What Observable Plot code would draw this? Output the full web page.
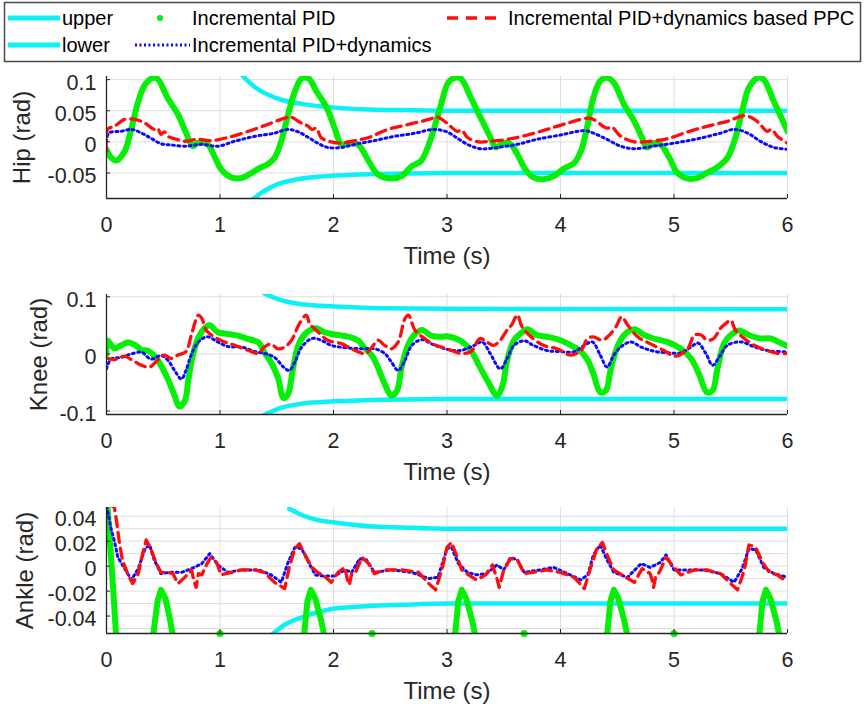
<!DOCTYPE html>
<html><head><meta charset="utf-8">
<script src="https://cdn.jsdelivr.net/npm/d3@7"></script>
<script src="https://cdn.jsdelivr.net/npm/@observablehq/plot@0.6"></script>
<style>
body{margin:0;background:#fff}
#wrap{position:relative;width:865px;height:707px;overflow:hidden;background:#fff}
#wrap svg{position:absolute;left:0}
</style>
</head><body><div id="wrap"></div>
<script>
// ---------- data (time s, value rad) ----------
const timeTicks = [0, 1, 2, 3, 4, 5, 6];

const hipTicks = [-0.05, 0, 0.05, 0.1];
const kneeTicks = [-0.1, 0, 0.1];
const ankleTicks = [-0.04, -0.02, 0, 0.02, 0.04];
const ankleGrid = [-0.05, -0.04, -0.03, -0.02, -0.01, 0, 0.01, 0.02, 0.03, 0.04];

const hipUpper = [[1.2,0.106],[1.3,0.089],[1.42,0.076],[1.57,0.066],[1.72,0.061],[2.01,0.055],[2.31,0.052],[2.6,0.051],[3.0,0.05],[6,0.05]];
const hipLower = [[1.29,-0.092],[1.39,-0.079],[1.51,-0.068],[1.66,-0.061],[1.86,-0.056],[2.16,-0.053],[2.6,-0.051],[3.0,-0.05],[6,-0.05]];
const hipPID = [[0,-0.012],[0.04,-0.025],[0.085,-0.03],[0.16,-0.015],[0.22,0.022],[0.28,0.065],[0.34,0.092],[0.41,0.103],[0.45,0.101],[0.54,0.07],[0.63,0.044],[0.70,0.015],[0.76,-0.007],[0.80,-0.002],[0.89,-0.004],[0.95,-0.023],[1.01,-0.044],[1.10,-0.057],[1.19,-0.058],[1.26,-0.052],[1.34,-0.043],[1.42,-0.036],[1.48,-0.026],[1.54,0.001],[1.60,0.044],[1.66,0.081],[1.72,0.102],[1.78,0.102],[1.85,0.081],[1.94,0.055],[2.01,0.022],[2.07,-0.004],[2.13,-0.002],[2.22,-0.005],[2.31,-0.031],[2.39,-0.052],[2.51,-0.059],[2.60,-0.055],[2.69,-0.039],[2.77,-0.031],[2.85,0.001],[2.94,0.055],[3.01,0.095],[3.07,0.103],[3.12,0.102],[3.21,0.071],[3.29,0.041],[3.37,0.012],[3.43,-0.009],[3.49,-0.002],[3.56,-0.004],[3.62,-0.020],[3.69,-0.044],[3.76,-0.057],[3.85,-0.060],[3.94,-0.055],[4.03,-0.043],[4.12,-0.034],[4.18,-0.015],[4.24,0.028],[4.29,0.071],[4.35,0.098],[4.41,0.103],[4.47,0.095],[4.56,0.060],[4.65,0.033],[4.72,0.006],[4.76,-0.009],[4.82,-0.002],[4.88,-0.004],[4.96,-0.026],[5.03,-0.050],[5.12,-0.059],[5.21,-0.058],[5.29,-0.050],[5.38,-0.041],[5.47,-0.026],[5.54,0.006],[5.60,0.049],[5.66,0.087],[5.74,0.103],[5.79,0.100],[5.88,0.065],[5.96,0.033],[6.0,0.017]];
const hipDyn = [[0,0.0],[0.02,0.014],[0.13,0.017],[0.22,0.020],[0.31,0.014],[0.39,0.006],[0.48,-0.003],[0.57,-0.005],[0.69,-0.007],[0.84,-0.004],[0.98,-0.007],[1.13,0.001],[1.31,0.009],[1.48,0.014],[1.60,0.020],[1.69,0.016],[1.78,0.007],[1.86,-0.002],[1.95,-0.009],[2.07,-0.009],[2.19,-0.004],[2.36,0.002],[2.54,0.009],[2.72,0.014],[2.88,0.020],[3.0,0.016],[3.09,0.006],[3.18,-0.004],[3.29,-0.011],[3.44,-0.009],[3.62,-0.004],[3.79,0.004],[4.0,0.011],[4.21,0.018],[4.29,0.014],[4.41,0.004],[4.53,-0.007],[4.65,-0.011],[4.82,-0.007],[5.0,-0.002],[5.21,0.005],[5.41,0.014],[5.53,0.020],[5.65,0.014],[5.76,0.001],[5.88,-0.009],[6.0,-0.012]];
const hipPPC = [[0,-0.015],[0.01,0.02],[0.07,0.025],[0.16,0.036],[0.25,0.036],[0.34,0.030],[0.42,0.020],[0.45,0.022],[0.48,0.012],[0.51,0.016],[0.55,0.008],[0.60,0.005],[0.69,0.001],[0.80,0.004],[0.92,0.002],[1.07,0.007],[1.25,0.017],[1.42,0.028],[1.57,0.038],[1.62,0.040],[1.72,0.030],[1.77,0.026],[1.81,0.020],[1.85,0.022],[1.89,0.007],[1.98,0.000],[2.07,-0.002],[2.19,0.002],[2.31,0.007],[2.48,0.020],[2.66,0.028],[2.84,0.036],[2.91,0.040],[3.0,0.030],[3.09,0.017],[3.13,0.019],[3.18,0.007],[3.28,0.000],[3.38,0.001],[3.53,0.004],[3.71,0.011],[3.88,0.020],[4.06,0.030],[4.24,0.038],[4.29,0.036],[4.41,0.022],[4.45,0.024],[4.53,0.009],[4.65,0.000],[4.79,0.001],[4.94,0.005],[5.12,0.016],[5.29,0.025],[5.47,0.033],[5.62,0.042],[5.71,0.036],[5.76,0.028],[5.82,0.017],[5.86,0.020],[5.91,0.009],[6.0,-0.002]];

const kneeUpper = [[1.39,0.106],[1.51,0.096],[1.72,0.087],[2.01,0.083],[2.45,0.080],[3.0,0.079],[6,0.078]];
const kneeLower = [[1.39,-0.107],[1.51,-0.096],[1.72,-0.087],[2.01,-0.083],[2.45,-0.080],[3.0,-0.079],[6,-0.079]];
const kneePID = [[0,0.0],[0.01,0.023],[0.07,0.010],[0.13,0.015],[0.19,0.020],[0.25,0.016],[0.31,0.007],[0.36,0.006],[0.42,-0.003],[0.48,-0.020],[0.54,-0.044],[0.60,-0.073],[0.64,-0.092],[0.69,-0.082],[0.72,-0.047],[0.76,-0.003],[0.81,0.029],[0.86,0.044],[0.91,0.050],[0.98,0.038],[1.07,0.035],[1.16,0.032],[1.25,0.026],[1.34,0.020],[1.39,0.003],[1.45,-0.015],[1.51,-0.041],[1.56,-0.077],[1.60,-0.070],[1.64,-0.029],[1.69,0.015],[1.75,0.035],[1.82,0.044],[1.85,0.045],[1.92,0.038],[2.01,0.034],[2.13,0.030],[2.22,0.023],[2.28,0.009],[2.34,-0.003],[2.39,-0.023],[2.45,-0.052],[2.51,-0.073],[2.56,-0.064],[2.60,-0.023],[2.66,0.017],[2.72,0.035],[2.78,0.042],[2.86,0.032],[2.95,0.030],[3.0,0.031],[3.12,0.023],[3.21,0.006],[3.29,-0.023],[3.37,-0.052],[3.44,-0.073],[3.49,-0.055],[3.53,-0.011],[3.59,0.024],[3.65,0.036],[3.71,0.043],[3.79,0.033],[3.88,0.030],[4.0,0.024],[4.12,0.012],[4.18,0.004],[4.24,-0.011],[4.29,-0.035],[4.35,-0.067],[4.40,-0.064],[4.44,-0.029],[4.50,0.012],[4.56,0.033],[4.65,0.043],[4.74,0.033],[4.82,0.027],[4.94,0.021],[5.06,0.009],[5.15,-0.008],[5.22,-0.035],[5.29,-0.067],[5.34,-0.064],[5.38,-0.029],[5.44,0.018],[5.50,0.033],[5.57,0.041],[5.66,0.033],[5.76,0.027],[5.85,0.027],[5.94,0.019],[6.0,0.014]];
const kneeDyn = [[0,-0.026],[0.04,-0.009],[0.13,-0.006],[0.22,0.0],[0.31,0.003],[0.39,-0.009],[0.48,-0.003],[0.54,-0.011],[0.60,-0.029],[0.66,-0.044],[0.70,-0.029],[0.75,0.0],[0.81,0.021],[0.89,0.030],[0.98,0.021],[1.07,0.013],[1.19,0.012],[1.31,0.004],[1.39,0.001],[1.48,-0.006],[1.56,-0.023],[1.61,-0.029],[1.66,-0.014],[1.72,0.012],[1.81,0.027],[1.89,0.024],[1.98,0.015],[2.10,0.011],[2.25,0.009],[2.36,0.009],[2.45,0.001],[2.51,-0.014],[2.57,-0.029],[2.63,-0.011],[2.69,0.015],[2.78,0.025],[2.86,0.018],[3.0,0.008],[3.12,0.006],[3.24,0.015],[3.31,0.021],[3.38,0.001],[3.47,-0.026],[3.53,-0.008],[3.59,0.015],[3.68,0.023],[3.76,0.015],[3.88,0.006],[4.0,0.004],[4.12,0.004],[4.21,0.015],[4.28,0.021],[4.35,-0.002],[4.41,-0.023],[4.47,-0.002],[4.53,0.012],[4.62,0.021],[4.71,0.012],[4.82,0.005],[4.94,0.002],[5.06,0.002],[5.15,0.012],[5.21,0.019],[5.28,0.001],[5.34,-0.020],[5.40,-0.005],[5.47,0.015],[5.59,0.021],[5.71,0.012],[5.85,0.005],[6.0,0.004]];
const kneePPC = [[0,-0.007],[0.07,-0.010],[0.16,-0.004],[0.22,-0.010],[0.31,-0.020],[0.38,-0.023],[0.45,-0.011],[0.51,-0.002],[0.57,-0.008],[0.63,-0.002],[0.70,0.004],[0.75,0.035],[0.81,0.068],[0.84,0.062],[0.88,0.041],[0.95,0.030],[1.04,0.021],[1.13,0.015],[1.25,0.006],[1.34,0.001],[1.39,0.012],[1.45,0.017],[1.51,0.009],[1.57,0.012],[1.63,0.024],[1.70,0.053],[1.76,0.068],[1.79,0.053],[1.85,0.041],[1.95,0.024],[2.07,0.018],[2.19,0.006],[2.28,0.001],[2.34,0.012],[2.39,0.024],[2.45,0.015],[2.51,0.009],[2.57,0.021],[2.63,0.062],[2.66,0.068],[2.72,0.041],[2.81,0.026],[2.89,0.016],[3.0,0.009],[3.12,0.001],[3.21,0.004],[3.29,0.027],[3.35,0.021],[3.41,0.015],[3.47,0.024],[3.53,0.042],[3.57,0.051],[3.62,0.068],[3.66,0.048],[3.74,0.030],[3.85,0.015],[3.97,0.009],[4.09,-0.002],[4.18,0.006],[4.24,0.027],[4.29,0.030],[4.37,0.024],[4.43,0.033],[4.49,0.048],[4.54,0.065],[4.59,0.051],[4.68,0.030],[4.79,0.018],[4.91,0.006],[5.01,-0.004],[5.12,0.009],[5.18,0.033],[5.24,0.033],[5.29,0.024],[5.35,0.027],[5.41,0.045],[5.46,0.054],[5.50,0.059],[5.54,0.042],[5.62,0.027],[5.71,0.015],[5.82,0.006],[5.91,0.001],[6.0,0.001]];

const ankleUpper = [[1.61,0.046],[1.72,0.041],[1.86,0.037],[2.01,0.035],[2.31,0.032],[2.6,0.031],[3.0,0.030],[6,0.030]];
const ankleLower = [[1.47,-0.054],[1.57,-0.047],[1.72,-0.041],[1.86,-0.037],[2.01,-0.034],[2.31,-0.032],[2.6,-0.031],[3.0,-0.030],[6,-0.030]];
const anklePID = [[0,0.06],[0.03,0.02],[0.06,-0.02],[0.085,-0.056],[0.1,-0.09],[0.38,-0.09],[0.41,-0.056],[0.45,-0.028],[0.48,-0.019],[0.52,-0.026],[0.56,-0.043],[0.585,-0.056],[0.62,-0.09],[1.71,-0.09],[1.74,-0.056],[1.77,-0.028],[1.80,-0.019],[1.84,-0.026],[1.89,-0.043],[1.92,-0.056],[1.95,-0.09],[3.04,-0.09],[3.07,-0.056],[3.10,-0.028],[3.13,-0.019],[3.17,-0.026],[3.22,-0.043],[3.25,-0.056],[3.28,-0.09],[4.38,-0.09],[4.41,-0.056],[4.44,-0.028],[4.47,-0.019],[4.51,-0.026],[4.56,-0.043],[4.59,-0.056],[4.62,-0.09],[5.72,-0.09],[5.75,-0.056],[5.78,-0.028],[5.81,-0.019],[5.85,-0.026],[5.90,-0.043],[5.93,-0.056],[5.96,-0.09],[6,-0.09]];
const anklePIDTouch = [[1.0,-0.054],[2.34,-0.054],[3.68,-0.054],[5.0,-0.054]];
const ankleDyn = [[0,0.048],[0.02,0.040],[0.04,0.030],[0.07,0.020],[0.10,0.007],[0.16,-0.002],[0.22,-0.011],[0.28,-0.002],[0.34,0.014],[0.38,0.017],[0.42,0.005],[0.48,-0.006],[0.57,-0.005],[0.66,-0.005],[0.75,-0.002],[0.84,0.002],[0.91,0.010],[0.98,0.001],[1.07,-0.005],[1.19,-0.003],[1.34,-0.003],[1.45,-0.007],[1.54,-0.013],[1.60,0.003],[1.66,0.015],[1.72,0.014],[1.78,0.003],[1.84,-0.007],[1.92,-0.008],[2.01,-0.008],[2.10,-0.003],[2.16,-0.005],[2.23,0.006],[2.29,0.005],[2.36,-0.005],[2.51,-0.003],[2.69,-0.005],[2.84,-0.010],[2.92,-0.009],[3.0,0.014],[3.04,0.015],[3.10,0.002],[3.18,-0.005],[3.26,-0.007],[3.35,-0.006],[3.44,0.001],[3.50,-0.003],[3.56,0.007],[3.62,0.005],[3.68,-0.005],[3.82,-0.003],[3.94,-0.001],[4.06,-0.006],[4.18,-0.011],[4.24,-0.007],[4.29,0.009],[4.35,0.017],[4.41,0.005],[4.47,-0.005],[4.59,-0.009],[4.71,0.002],[4.79,-0.001],[4.88,0.003],[4.93,0.009],[5.0,-0.003],[5.12,-0.003],[5.26,-0.003],[5.41,-0.006],[5.53,-0.013],[5.60,-0.002],[5.66,0.014],[5.72,0.013],[5.79,-0.001],[5.88,-0.006],[6.0,-0.009]];
const anklePPC = [[0.02,0.050],[0.07,0.047],[0.09,0.035],[0.115,0.018],[0.14,0.005],[0.19,-0.007],[0.23,-0.014],[0.28,-0.006],[0.31,0.007],[0.35,0.021],[0.39,0.014],[0.44,0.002],[0.48,-0.005],[0.54,-0.005],[0.585,-0.006],[0.63,-0.014],[0.69,-0.009],[0.75,-0.003],[0.77,-0.012],[0.79,-0.017],[0.81,-0.006],[0.84,-0.007],[0.88,0.001],[0.92,0.007],[0.97,0.003],[1.01,-0.007],[1.10,-0.005],[1.19,-0.003],[1.31,-0.003],[1.39,-0.005],[1.48,-0.013],[1.57,-0.018],[1.61,-0.001],[1.66,0.014],[1.70,0.018],[1.75,0.009],[1.81,-0.001],[1.86,-0.005],[1.92,-0.008],[1.98,-0.013],[2.04,-0.005],[2.10,-0.001],[2.12,-0.010],[2.14,-0.015],[2.16,-0.006],[2.19,-0.006],[2.25,0.007],[2.31,0.002],[2.36,-0.006],[2.45,-0.003],[2.60,-0.003],[2.75,-0.005],[2.84,-0.014],[2.90,-0.019],[2.96,-0.001],[3.0,0.015],[3.04,0.019],[3.09,0.007],[3.13,-0.003],[3.19,-0.007],[3.26,-0.011],[3.34,-0.007],[3.40,0.001],[3.44,-0.010],[3.46,-0.017],[3.50,-0.003],[3.56,0.006],[3.62,0.005],[3.68,-0.006],[3.76,-0.005],[3.88,-0.003],[4.0,-0.005],[4.12,-0.009],[4.21,-0.018],[4.26,-0.003],[4.32,0.014],[4.37,0.019],[4.41,0.009],[4.47,-0.003],[4.56,-0.008],[4.65,-0.013],[4.72,-0.002],[4.79,-0.006],[4.81,-0.012],[4.82,-0.017],[4.84,-0.008],[4.87,-0.005],[4.93,0.007],[5.0,-0.001],[5.06,-0.007],[5.18,-0.003],[5.29,-0.003],[5.41,-0.006],[5.50,-0.014],[5.56,-0.019],[5.62,-0.003],[5.66,0.017],[5.72,0.015],[5.78,0.003],[5.84,-0.005],[5.91,-0.007],[6.0,-0.013]];

// ---------- styles ----------
const CYAN = "#0cf0f8", GREEN = "#06ef06", BLUE = "#0a0aff", RED = "#ff0d0d";
const GRID = "#dedede", AX = "#262626";
const FONT = "'Liberation Sans', Arial, Helvetica, sans-serif";
const obj = a => a.map(([t, v]) => ({t, v}));

function panel({top, yDomain, yTicks, yGrid, yLabel, yLabelDx, frameH, upper, lower, pid, dyn, ppc, curve, touch}) {
  const marks = [
    Plot.gridX(timeTicks, {stroke: GRID, strokeOpacity: 1}),
    Plot.gridY(yGrid, {stroke: GRID, strokeOpacity: 1}),
    Plot.line(obj(upper), {x: "t", y: "v", stroke: CYAN, strokeWidth: 4.5, curve: "monotone-x", clip: true}),
    Plot.line(obj(lower), {x: "t", y: "v", stroke: CYAN, strokeWidth: 4.5, curve: "monotone-x", clip: true}),
    Plot.line(obj(pid), {x: "t", y: "v", stroke: GREEN, strokeWidth: 6, curve: curve.pid, strokeLinejoin: "round", strokeLinecap: "round", clip: true})
  ];
  if (touch) marks.push(Plot.dot(obj(touch), {x: "t", y: "v", r: 3.5, fill: GREEN}));
  marks.push(
    Plot.line(obj(dyn), {x: "t", y: "v", stroke: BLUE, strokeWidth: 3, strokeDasharray: "2,3.5", curve: curve.other, clip: true}),
    Plot.line(obj(ppc), {x: "t", y: "v", stroke: RED, strokeWidth: 3.3, strokeDasharray: "10,6", curve: curve.other, clip: true}),
    Plot.ruleX([0], {stroke: AX, strokeWidth: 1.3}),
    Plot.ruleY([yDomain[0]], {stroke: AX, strokeWidth: 1.3}),
    Plot.axisX(timeTicks, {tickSize: -4, tickFormat: () => "", label: null}),
    Plot.axisY(yTicks, {tickSize: -4, tickFormat: () => "", label: null}),
    Plot.axisX(timeTicks, {tickSize: 0, tickPadding: 18, tickFormat: d => String(d), label: null, fontSize: 21.5}),
    Plot.axisY(yTicks, {tickSize: 0, tickPadding: 10, dy: 3, tickFormat: d => String(d), label: null, fontSize: 21.5}),
    Plot.text(["Time (s)"], {text: d => d, frameAnchor: "bottom", textAnchor: "middle", dy: 58, lineAnchor: "middle", fontSize: 24}),
    Plot.text([yLabel], {text: d => d, frameAnchor: "left", textAnchor: "middle", dx: yLabelDx, rotate: -90, lineAnchor: "middle", fontSize: 24})
  );
  const svg = Plot.plot({
    width: 865, height: 10 + frameH + 66,
    marginLeft: 106, marginRight: 78, marginTop: 10, marginBottom: 66,
    style: {fontFamily: FONT, color: AX, background: "transparent", overflow: "visible"},
    x: {domain: [0, 6]},
    y: {domain: yDomain},
    marks
  });
  svg.style.top = top + "px";
  document.getElementById("wrap").appendChild(svg);
}

panel({top: 66, frameH: 122, yDomain: [-0.091, 0.105], yTicks: hipTicks, yGrid: hipTicks, yLabel: "Hip (rad)", yLabelDx: -84,
  upper: hipUpper, lower: hipLower, pid: hipPID, dyn: hipDyn, ppc: hipPPC, curve: {pid: "catmull-rom", other: "catmull-rom"}});
panel({top: 284, frameH: 120, yDomain: [-0.106, 0.104], yTicks: kneeTicks, yGrid: kneeTicks, yLabel: "Knee (rad)", yLabelDx: -67,
  upper: kneeUpper, lower: kneeLower, pid: kneePID, dyn: kneeDyn, ppc: kneePPC, curve: {pid: "catmull-rom", other: "catmull-rom"}});
panel({top: 497, frameH: 126, yDomain: [-0.054, 0.047], yTicks: ankleTicks, yGrid: ankleGrid, yLabel: "Ankle (rad)", yLabelDx: -81,
  upper: ankleUpper, lower: ankleLower, pid: anklePID, dyn: ankleDyn, ppc: anklePPC, curve: {pid: "linear", other: "linear"}, touch: anklePIDTouch});

// ---------- legend (above the charts) ----------
const lg = d3.select("#wrap").append("svg").attr("width", 865).attr("height", 64).style("top", "0px");
lg.append("rect").attr("x", 4.5).attr("y", 2.5).attr("width", 856).attr("height", 59)
  .attr("fill", "#fff").attr("stroke", "#4a4a4a").attr("stroke-width", 1.5);
const legendItems = [
  {label: "upper", kind: "cyan", sx: 8, tx: 62, y: 18},
  {label: "lower", kind: "cyan", sx: 8, tx: 62, y: 45},
  {label: "Incremental PID", kind: "dot", sx: 160, tx: 192, y: 18},
  {label: "Incremental PID+dynamics", kind: "dotted", sx: 135, tx: 192, y: 45},
  {label: "Incremental PID+dynamics based PPC", kind: "dashed", sx: 447, tx: 508, y: 18}
];
for (const it of legendItems) {
  if (it.kind === "cyan") lg.append("line").attr("x1", it.sx).attr("x2", it.sx + 52).attr("y1", it.y).attr("y2", it.y).attr("stroke", CYAN).attr("stroke-width", 5);
  if (it.kind === "dot") lg.append("circle").attr("cx", it.sx).attr("cy", it.y).attr("r", 3).attr("fill", GREEN);
  if (it.kind === "dotted") lg.append("line").attr("x1", it.sx).attr("x2", it.sx + 55).attr("y1", it.y).attr("y2", it.y).attr("stroke", BLUE).attr("stroke-width", 3).attr("stroke-dasharray", "2,2.5");
  if (it.kind === "dashed") lg.append("line").attr("x1", it.sx).attr("x2", it.sx + 56).attr("y1", it.y).attr("y2", it.y).attr("stroke", RED).attr("stroke-width", 3.3).attr("stroke-dasharray", "11,8");
  lg.append("text").attr("x", it.tx).attr("y", it.y).attr("dy", "0.35em").attr("font-family", FONT).attr("font-size", 20).attr("fill", "#000").text(it.label);
}
</script></body></html>
